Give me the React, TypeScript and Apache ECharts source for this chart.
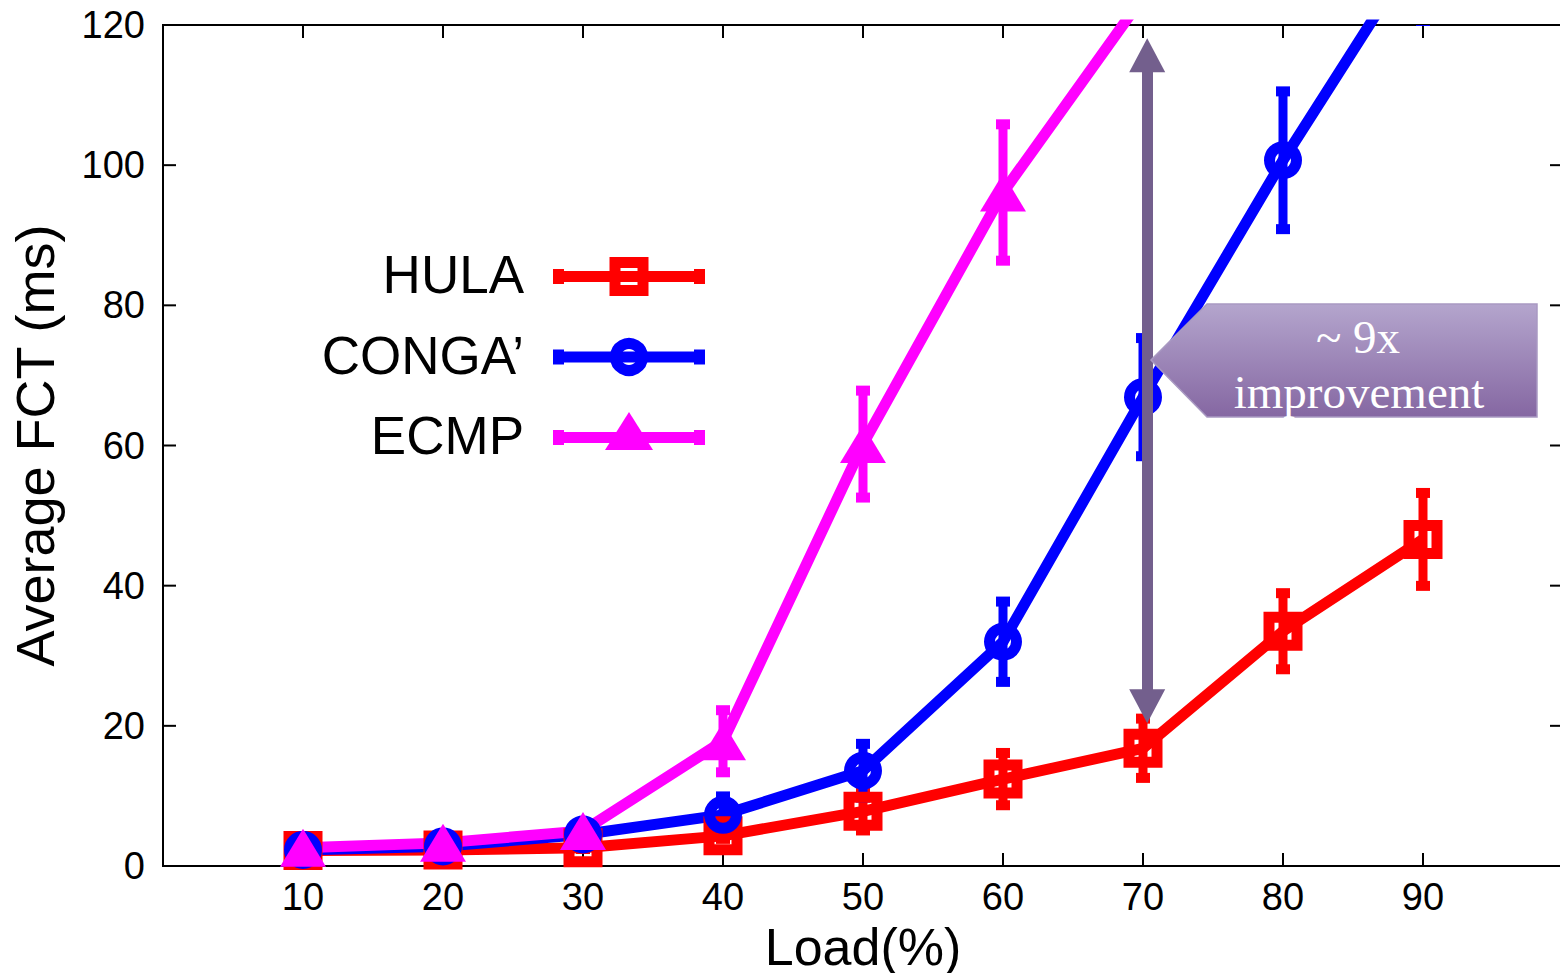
import React, { useEffect, useRef } from "react";
import * as echarts from "echarts";

const loads = [10, 20, 30, 40, 50, 60, 70, 80, 90];
const hulaMean = [2.2, 2.3, 2.6, 4.3, 7.8, 12.4, 16.8, 33.5, 46.6];
const hulaErr = [0.3, 0.3, 0.4, 1.0, 3.3, 4.3, 4.8, 6.0, 7.2];
const congaMean = [2.3, 2.8, 4.5, 7.3, 13.6, 32.0, 66.9, 100.7, 132];
const congaErr = [0.3, 0.4, 0.6, 3.2, 4.4, 6.3, 9.0, 10.4, 12];
const ecmpLoads = [10, 20, 30, 40, 50, 60, 70];
const ecmpMean = [2.6, 3.3, 5.0, 17.8, 60.2, 96.1, 124];
const ecmpErr = [0.3, 0.4, 0.8, 5.0, 8.2, 10.3, 3];

const xTicks = [0, 10, 20, 30, 40, 50, 60, 70, 80, 90, 100];
const yTicks = [0, 20, 40, 60, 80, 100, 120];

const seriesNames = ["HULA", "CONGA\u2019", "ECMP"];
const colors = ["#ff0000", "#0000ff", "#ff00ff"];
const calloutLines = ["~ 9x", "improvement"];
const xName = "Load(%)";
const yName = "Average FCT (ms)";

const FONT = "'Liberation Sans', Arial, Helvetica, sans-serif";
const SERIF = "'Liberation Serif', 'Times New Roman', serif";
const SQUARE_RING = "path://M0,0H39V39H0Z M11,11V28H28V11Z";
const CIRCLE_RING =
  "path://M19,0A19,19 0 1,1 19,38A19,19 0 1,1 19,0Z M19,11A8,8 0 1,0 19,27A8,8 0 1,0 19,11Z";

function pairs(xs: number[], ys: number[]) {
  return xs.map((x, i) => [x, ys[i]]);
}
function errRows(xs: number[], ys: number[], es: number[]) {
  return xs.map((x, i) => [x, ys[i] - es[i], ys[i] + es[i]]);
}

function errorSeries(name: string, color: string, data: number[][]) {
  return {
    type: "custom",
    name: name + "-err",
    clip: true,
    silent: true,
    itemStyle: { color },
    encode: { x: 0, y: [1, 2] },
    data,
    renderItem: (params: any, api: any) => {
      const x = api.value(0);
      const lo = api.value(1);
      const hi = api.value(2);
      const top = api.coord([x, hi]);
      const bot = api.coord([x, lo]);
      return {
        type: "group",
        children: [
          {
            type: "line",
            shape: { x1: top[0], y1: top[1], x2: bot[0], y2: bot[1] },
            style: { stroke: color, lineWidth: 9 },
          },
          {
            type: "rect",
            shape: { x: top[0] - 7, y: top[1] - 1, width: 14, height: 10 },
            style: { fill: color },
          },
          {
            type: "rect",
            shape: { x: bot[0] - 7, y: bot[1] - 9, width: 14, height: 10 },
            style: { fill: color },
          },
        ],
      };
    },
  };
}

// inward ticks on all four sides of the frame
function tickSeries() {
  const rows = [
    ...xTicks.map((v) => [v, 0, 0]),
    ...yTicks.map((v) => [0, v, 1]),
  ];
  const L = 13;
  return {
    type: "custom",
    name: "ticks",
    silent: true,
    clip: false,
    z: 1,
    data: rows,
    renderItem: (params: any, api: any) => {
      const cs = params.coordSys;
      const kind = api.value(2);
      const st = { stroke: "#000", lineWidth: 2 };
      if (kind === 0) {
        const px = api.coord([api.value(0), 0])[0];
        return {
          type: "group",
          children: [
            { type: "line", shape: { x1: px, y1: cs.y + cs.height, x2: px, y2: cs.y + cs.height - L }, style: st },
            { type: "line", shape: { x1: px, y1: cs.y, x2: px, y2: cs.y + L }, style: st },
          ],
        };
      }
      const py = api.coord([0, api.value(1)])[1];
      return {
        type: "group",
        children: [
          { type: "line", shape: { x1: cs.x, y1: py, x2: cs.x + L, y2: py }, style: st },
          { type: "line", shape: { x1: cs.x + cs.width, y1: py, x2: cs.x + cs.width - L, y2: py }, style: st },
        ],
      };
    },
  };
}

function legendRow(i: number, y: number, marker: any) {
  const c = colors[i];
  return [
    {
      type: "text",
      x: 524,
      y: y - 2,
      style: {
        text: seriesNames[i],
        fontSize: 53,
        fontFamily: FONT,
        fill: "#000",
        align: "right",
        verticalAlign: "middle",
        textAlign: "right",
        textVerticalAlign: "middle",
      },
    },
    {
      type: "line",
      shape: { x1: 553, y1: y, x2: 705, y2: y },
      style: { stroke: c, lineWidth: 11 },
    },
    { type: "rect", shape: { x: 553, y: y - 7.5, width: 11, height: 15 }, style: { fill: c } },
    { type: "rect", shape: { x: 694, y: y - 7.5, width: 11, height: 15 }, style: { fill: c } },
    marker,
  ];
}

export default function App() {
  const ref = useRef<HTMLDivElement>(null);
  useEffect(() => {
    if (!ref.current) return;
    const chart = echarts.init(ref.current, undefined, { renderer: "svg" });
    const axisLine = { show: true, lineStyle: { color: "#000", width: 2 } };
    const rows = [276.5, 357, 437.5];
    const option: any = {
      animation: false,
      backgroundColor: "#fff",
      grid: {
        left: 163,
        top: 25,
        width: 1400,
        height: 841,
        containLabel: false,
        outerBoundsMode: "none",
        show: true,
        borderColor: "#000",
        borderWidth: 2,
        backgroundColor: "transparent",
      },
      xAxis: {
        type: "value",
        min: 0,
        max: 100,
        interval: 10,
        position: "bottom",
        name: xName,
        nameLocation: "middle",
        nameGap: 38,
        nameTextStyle: { fontSize: 52, fontFamily: FONT, color: "#000" },
        axisLine,
        axisTick: { show: false },
        splitLine: { show: false },
        axisLabel: {
          fontSize: 38,
          fontFamily: FONT,
          color: "#000",
          margin: 12,
          formatter: (v: number) => (v === 0 || v === 100 ? "" : String(v)),
        },
      },
      yAxis: {
        type: "value",
        min: 0,
        max: 120,
        interval: 20,
        position: "left",
        name: yName,
        nameLocation: "middle",
        nameGap: 101,
        nameTextStyle: { fontSize: 54, fontFamily: FONT, color: "#000" },
        axisLine,
        axisTick: { show: false },
        splitLine: { show: false },
        axisLabel: { fontSize: 38, fontFamily: FONT, color: "#000", margin: 18 },
      },
      series: [
        tickSeries(),
        errorSeries(seriesNames[0], colors[0], errRows(loads, hulaMean, hulaErr)),
        {
          type: "line",
          name: seriesNames[0],
          data: pairs(loads, hulaMean),
          lineStyle: { color: colors[0], width: 11 },
          itemStyle: { color: colors[0], borderWidth: 0 },
          symbol: SQUARE_RING,
          symbolSize: 39,
          showAllSymbol: true,
          clip: true,
          markLine: {
            silent: true,
            z: 10,
            symbol: ["triangle", "triangle"],
            symbolSize: [36, 34],
            label: { show: false },
            lineStyle: { color: "#735f8d", width: 11, type: "solid" },
            emphasis: { disabled: true },
            data: [[{ coord: [70.3, 22.8] }, { coord: [70.3, 115.7] }]],
          },
        },
        errorSeries(seriesNames[1], colors[1], errRows(loads, congaMean, congaErr)),
        {
          type: "line",
          name: seriesNames[1],
          data: pairs(loads, congaMean),
          lineStyle: { color: colors[1], width: 11 },
          itemStyle: { color: colors[1], borderWidth: 0 },
          symbol: CIRCLE_RING,
          symbolSize: 38,
          showAllSymbol: true,
          clip: true,
        },
        errorSeries(seriesNames[2], colors[2], errRows(ecmpLoads, ecmpMean, ecmpErr)),
        {
          type: "line",
          name: seriesNames[2],
          data: pairs(ecmpLoads, ecmpMean),
          lineStyle: { color: colors[2], width: 11 },
          itemStyle: { color: colors[2], borderWidth: 0 },
          symbol: "triangle",
          symbolSize: [46, 38],
          showAllSymbol: true,
          clip: true,
        },
      ],
      graphic: [
        ...legendRow(0, rows[0], {
          type: "rect",
          shape: { x: 629 - 14, y: rows[0] - 14, width: 28, height: 28 },
          style: { fill: "none", stroke: colors[0], lineWidth: 11 },
        }),
        ...legendRow(1, rows[1], {
          type: "circle",
          shape: { cx: 629, cy: rows[1], r: 13.5 },
          style: { fill: "none", stroke: colors[1], lineWidth: 11 },
        }),
        ...legendRow(2, rows[2], {
          type: "polygon",
          shape: { points: [[629, 412], [653, 450], [605, 450]] },
          style: { fill: colors[2] },
        }),
        {
          type: "polygon",
          z: 100,
          shape: {
            points: [
              [1151, 360],
              [1207, 304],
              [1537, 304],
              [1537, 417],
              [1207, 417],
            ],
          },
          style: {
            fill: {
              type: "linear",
              x: 0,
              y: 0,
              x2: 0,
              y2: 1,
              colorStops: [
                { offset: 0, color: "#b4a5cd" },
                { offset: 1, color: "#8567a2" },
              ],
            },
            stroke: "#a999c2",
            lineWidth: 1.5,
          },
        },
        {
          type: "text",
          z: 101,
          x: 1358,
          y: 337,
          style: {
            text: calloutLines[0],
            fontSize: 47,
            fontFamily: SERIF,
            fill: "#fff",
            align: "center",
            verticalAlign: "middle",
            textAlign: "center",
            textVerticalAlign: "middle",
          },
        },
        {
          type: "text",
          z: 101,
          x: 1359,
          y: 392,
          style: {
            text: calloutLines[1],
            fontSize: 47,
            fontFamily: SERIF,
            fill: "#fff",
            align: "center",
            verticalAlign: "middle",
            textAlign: "center",
            textVerticalAlign: "middle",
          },
        },
      ],
    };
    chart.setOption(option);
    return () => chart.dispose();
  }, []);
  return (
    <div
      ref={ref}
      style={{ position: "fixed", left: 0, top: 0, width: 1560, height: 973, background: "#fff" }}
    />
  );
}
